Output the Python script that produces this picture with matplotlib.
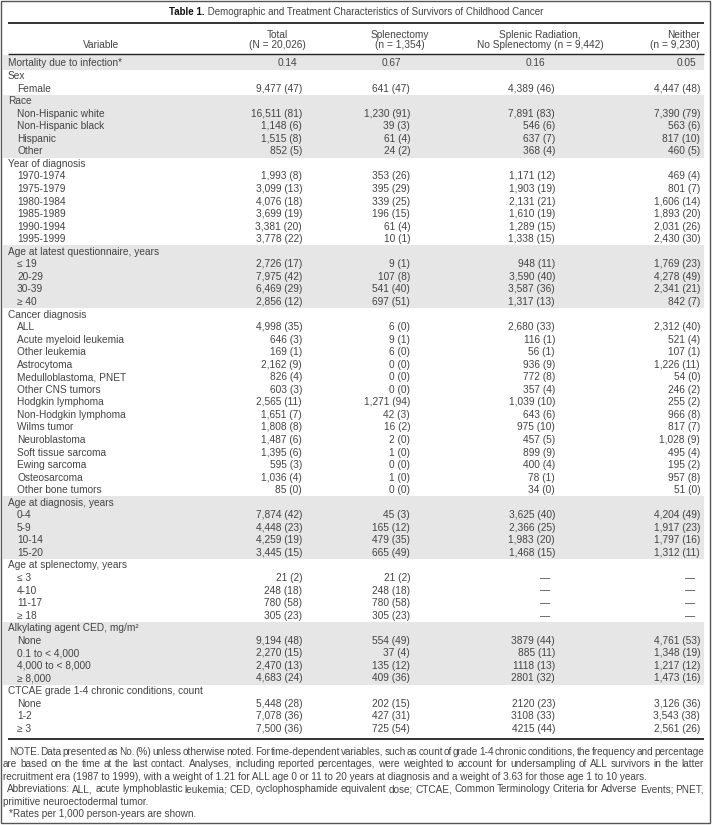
import matplotlib
matplotlib.use("Agg")
import matplotlib.pyplot as plt
from matplotlib.patches import Rectangle

# ---------------- data ----------------
title_bold = "Table 1."
title_rest = " Demographic and Treatment Characteristics of Survivors of Childhood Cancer"

header_variable = "Variable"
col_headers = [["Total", "(N = 20,026)"],
               ["Splenectomy", "(n = 1,354)"],
               ["Splenic Radiation,", "No Splenectomy (n = 9,442)"],
               ["Neither", "(n = 9,230)"]]

row_labels = [
    "Mortality due to infection*",
    "Sex", "Female",
    "Race", "Non-Hispanic white", "Non-Hispanic black", "Hispanic", "Other",
    "Year of diagnosis", "1970-1974", "1975-1979", "1980-1984", "1985-1989", "1990-1994", "1995-1999",
    "Age at latest questionnaire, years", "≤ 19", "20-29", "30-39", "≥ 40",
    "Cancer diagnosis", "ALL", "Acute myeloid leukemia", "Other leukemia", "Astrocytoma",
    "Medulloblastoma, PNET", "Other CNS tumors", "Hodgkin lymphoma", "Non-Hodgkin lymphoma",
    "Wilms tumor", "Neuroblastoma", "Soft tissue sarcoma", "Ewing sarcoma", "Osteosarcoma",
    "Other bone tumors",
    "Age at diagnosis, years", "0-4", "5-9", "10-14", "15-20",
    "Age at splenectomy, years", "≤ 3", "4-10", "11-17", "≥ 18",
    "Alkylating agent CED, mg/m²", "None", "0.1 to < 4,000", "4,000 to < 8,000", "≥ 8,000",
    "CTCAE grade 1-4 chronic conditions, count", "None", "1-2", "≥ 3",
]
row_level = [0,
             0, 1,
             0, 1, 1, 1, 1,
             0, 1, 1, 1, 1, 1, 1,
             0, 1, 1, 1, 1,
             0, 1, 1, 1, 1, 1, 1, 1, 1, 1, 1, 1, 1, 1, 1,
             0, 1, 1, 1, 1,
             0, 1, 1, 1, 1,
             0, 1, 1, 1, 1,
             0, 1, 1, 1]

total_vals = ["0.14", "", "9,477 (47)", "", "16,511 (81)", "1,148 (6)", "1,515 (8)", "852 (5)",
              "", "1,993 (8)", "3,099 (13)", "4,076 (18)", "3,699 (19)", "3,381 (20)", "3,778 (22)",
              "", "2,726 (17)", "7,975 (42)", "6,469 (29)", "2,856 (12)",
              "", "4,998 (35)", "646 (3)", "169 (1)", "2,162 (9)", "826 (4)", "603 (3)", "2,565 (11)",
              "1,651 (7)", "1,808 (8)", "1,487 (6)", "1,395 (6)", "595 (3)", "1,036 (4)", "85 (0)",
              "", "7,874 (42)", "4,448 (23)", "4,259 (19)", "3,445 (15)",
              "", "21 (2)", "248 (18)", "780 (58)", "305 (23)",
              "", "9,194 (48)", "2,270 (15)", "2,470 (13)", "4,683 (24)",
              "", "5,448 (28)", "7,078 (36)", "7,500 (36)"]
splenectomy_vals = ["0.67", "", "641 (47)", "", "1,230 (91)", "39 (3)", "61 (4)", "24 (2)",
                    "", "353 (26)", "395 (29)", "339 (25)", "196 (15)", "61 (4)", "10 (1)",
                    "", "9 (1)", "107 (8)", "541 (40)", "697 (51)",
                    "", "6 (0)", "9 (1)", "6 (0)", "0 (0)", "0 (0)", "0 (0)", "1,271 (94)",
                    "42 (3)", "16 (2)", "2 (0)", "1 (0)", "0 (0)", "1 (0)", "0 (0)",
                    "", "45 (3)", "165 (12)", "479 (35)", "665 (49)",
                    "", "21 (2)", "248 (18)", "780 (58)", "305 (23)",
                    "", "554 (49)", "37 (4)", "135 (12)", "409 (36)",
                    "", "202 (15)", "427 (31)", "725 (54)"]
radiation_vals = ["0.16", "", "4,389 (46)", "", "7,891 (83)", "546 (6)", "637 (7)", "368 (4)",
                  "", "1,171 (12)", "1,903 (19)", "2,131 (21)", "1,610 (19)", "1,289 (15)", "1,338 (15)",
                  "", "948 (11)", "3,590 (40)", "3,587 (36)", "1,317 (13)",
                  "", "2,680 (33)", "116 (1)", "56 (1)", "936 (9)", "772 (8)", "357 (4)", "1,039 (10)",
                  "643 (6)", "975 (10)", "457 (5)", "899 (9)", "400 (4)", "78 (1)", "34 (0)",
                  "", "3,625 (40)", "2,366 (25)", "1,983 (20)", "1,468 (15)",
                  "", "—", "—", "—", "—",
                  "", "3879 (44)", "885 (11)", "1118 (13)", "2801 (32)",
                  "", "2120 (23)", "3108 (33)", "4215 (44)"]
neither_vals = ["0.05", "", "4,447 (48)", "", "7,390 (79)", "563 (6)", "817 (10)", "460 (5)",
                "", "469 (4)", "801 (7)", "1,606 (14)", "1,893 (20)", "2,031 (26)", "2,430 (30)",
                "", "1,769 (23)", "4,278 (49)", "2,341 (21)", "842 (7)",
                "", "2,312 (40)", "521 (4)", "107 (1)", "1,226 (11)", "54 (0)", "246 (2)", "255 (2)",
                "966 (8)", "817 (7)", "1,028 (9)", "495 (4)", "195 (2)", "957 (8)", "51 (0)",
                "", "4,204 (49)", "1,917 (23)", "1,797 (16)", "1,312 (11)",
                "", "—", "—", "—", "—",
                "", "4,761 (53)", "1,348 (19)", "1,217 (12)", "1,473 (16)",
                "", "3,126 (36)", "3,543 (38)", "2,561 (26)"]

note_lines = [
    ("NOTE. Data presented as No. (%) unless otherwise noted. For time-dependent variables, such as count of grade 1-4 chronic conditions, the frequency and percentage", 9, True),
    ("are based on the time at the last contact. Analyses, including reported percentages, were weighted to account for undersampling of ALL survivors in the latter", 3, True),
    ("recruitment era (1987 to 1999), with a weight of 1.21 for ALL age 0 or 11 to 20 years at diagnosis and a weight of 3.63 for those age 1 to 10 years.", 3, False),
    ("Abbreviations: ALL, acute lymphoblastic leukemia; CED, cyclophosphamide equivalent dose; CTCAE, Common Terminology Criteria for Adverse Events; PNET,", 7, True),
    ("primitive neuroectodermal tumor.", 3, False),
    ("*Rates per 1,000 person-years are shown.", 9, False),
]

# ---------------- layout / style ----------------
W, H = 712, 825
FONT = "Liberation Sans"
FS = 7.3
FS_NOTE = 7.2
TXT = "#444444"
SHADE = "#e6e6e6"

fig = plt.figure(figsize=(W / 100, H / 100), dpi=100)
ax = fig.add_axes([0, 0, 1, 1])
ax.set_xlim(0, W)
ax.set_ylim(H, 0)
ax.axis("off")
renderer = fig.canvas.get_renderer()

x_left, x_right = 8, 704
col_right = [302, 410, 555, 700]
col_center = [277, 400, 540, None]
mort_offset = [5, 9, 10, 4]

y0, dy = 63.5, 12.55
row_y = [y0 + i * dy for i in range(len(row_labels))]

# shaded bands by group
group_starts = [i for i, lv in enumerate(row_level) if lv == 0]
for gi, s in enumerate(group_starts):
    e = group_starts[gi + 1] - 1 if gi + 1 < len(group_starts) else len(row_labels) - 1
    if gi % 2 == 0:
        top = row_y[s] - dy / 2
        if gi == 0:
            top = 55
        ax.add_patch(Rectangle((3, top), 704 - 3, row_y[e] + dy / 2 - top,
                               facecolor=SHADE, edgecolor="none", zorder=0))

# frame
ax.add_patch(Rectangle((1, 1), W - 3, H - 3, facecolor="none", edgecolor="#555555", lw=1.0, zorder=5))

# title
tb = ax.text(0, 12, title_bold, fontsize=FS - 0.3, fontfamily=FONT, fontweight="bold", color="#111111",
             va="center", ha="left")
tr = ax.text(0, 12, title_rest, fontsize=FS - 0.3, fontfamily=FONT, color=TXT, va="center", ha="left")
wb = tb.get_window_extent(renderer).width
wr = tr.get_window_extent(renderer).width
start = W / 2 - (wb + wr) / 2
tb.set_x(start)
tr.set_x(start + wb)

# rules
ax.plot([x_left, x_right], [23, 23], color="#222222", lw=1.3, solid_capstyle="butt")
ax.plot([x_left, x_right], [54, 54], color="#222222", lw=1.0, solid_capstyle="butt")
ax.plot([x_left, x_right], [739, 739], color="#222222", lw=1.3, solid_capstyle="butt")

# header
ax.text(101, 45, header_variable, fontsize=FS, fontfamily=FONT, color=TXT, ha="center", va="center")
for ci, (l1, l2) in enumerate(col_headers):
    if col_center[ci] is None:
        ha, x = "right", col_right[ci]
    else:
        ha, x = "center", col_center[ci]
    ax.text(x, 35, l1, fontsize=FS, fontfamily=FONT, color=TXT, ha=ha, va="center")
    ax.text(x, 45, l2, fontsize=FS, fontfamily=FONT, color=TXT, ha=ha, va="center")

# body
columns = [total_vals, splenectomy_vals, radiation_vals, neither_vals]
for i, lab in enumerate(row_labels):
    x = 8 if row_level[i] == 0 else 17
    ax.text(x, row_y[i], lab, fontsize=FS, fontfamily=FONT, color=TXT, ha="left", va="center")
    for ci, col in enumerate(columns):
        v = col[i]
        if not v:
            continue
        xr = col_right[ci]
        if i == 0:
            xr -= mort_offset[ci]
        elif v == "—":
            xr -= 5
        ax.text(xr, row_y[i], v, fontsize=FS, fontfamily=FONT, color=TXT, ha="right", va="center")

# notes (justified)
ny0, ndy = 752, 12.4
for li, (line, xs, just) in enumerate(note_lines):
    y = ny0 + li * ndy
    if not just:
        ax.text(xs, y, line, fontsize=FS_NOTE, fontfamily=FONT, color=TXT, ha="left", va="center")
        continue
    words = line.split(" ")
    ts = [ax.text(0, y, w, fontsize=FS_NOTE, fontfamily=FONT, color=TXT, ha="left", va="center")
          for w in words]
    widths = [t.get_window_extent(renderer).width for t in ts]
    gap = (x_right - xs - sum(widths)) / (len(words) - 1)
    xx = xs
    for t, w in zip(ts, widths):
        t.set_x(xx)
        xx += w + gap

fig.savefig("out.png", dpi=100)
